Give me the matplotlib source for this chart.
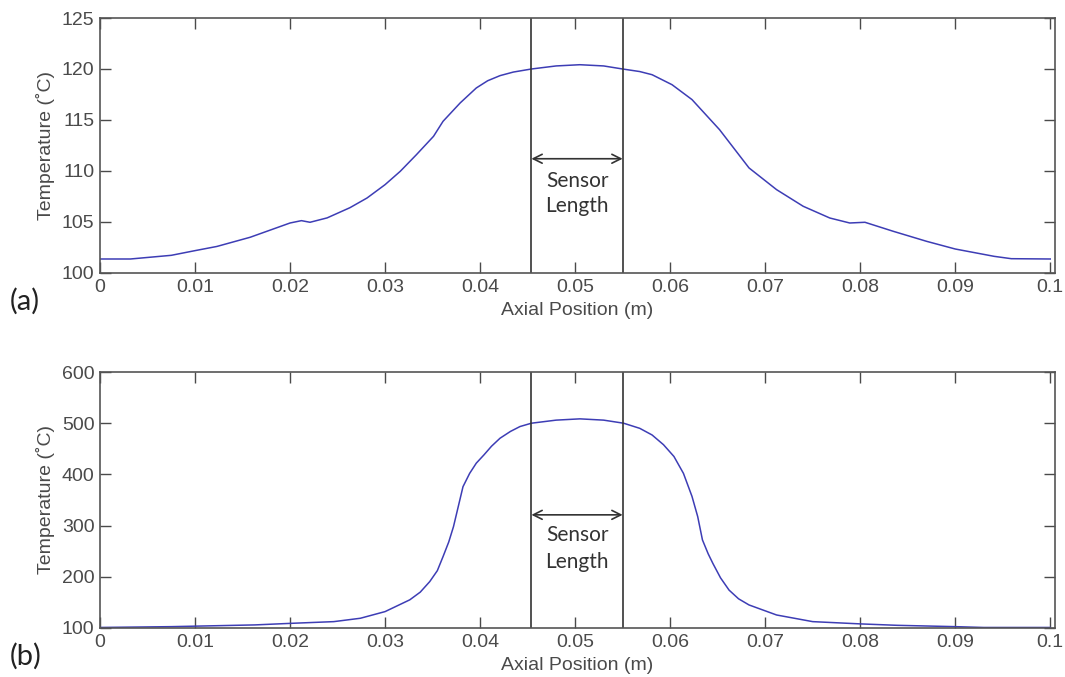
import matplotlib.pyplot as plt

# (a) temperature profile
xa = [0, 0.0032, 0.0075, 0.010, 0.0123, 0.0158, 0.020, 0.0212, 0.0221, 0.0239,
      0.0263, 0.0281, 0.030, 0.0316, 0.0333, 0.0351, 0.0361, 0.0379, 0.0396,
      0.0408, 0.0421, 0.0435, 0.0454, 0.0480, 0.0505, 0.0530, 0.0550, 0.0568,
      0.0581, 0.0602, 0.0623, 0.0652, 0.0683, 0.0712, 0.0740, 0.0768, 0.0789,
      0.0805, 0.0835, 0.0870, 0.0900, 0.0941, 0.0959, 0.1000]
ya = [101.37, 101.37, 101.73, 102.19, 102.6, 103.5, 104.9, 105.13, 104.97, 105.4,
      106.4, 107.35, 108.66, 109.97, 111.6, 113.4, 114.87, 116.67, 118.14,
      118.85, 119.35, 119.7, 120.0, 120.3, 120.42, 120.3, 120.0, 119.75,
      119.44, 118.46, 117.0, 114.05, 110.3, 108.17, 106.54, 105.39, 104.9,
      104.97, 104.08, 103.1, 102.35, 101.63, 101.4, 101.37]

# (b) temperature profile
xb = [0, 0.0075, 0.0163, 0.020, 0.0246, 0.0274, 0.030, 0.0326, 0.0337, 0.0347,
      0.0355, 0.0361, 0.0367, 0.0372, 0.0377, 0.0382, 0.0389, 0.0396, 0.0404,
      0.0412, 0.0421, 0.0432, 0.0442, 0.0454, 0.0480, 0.0505, 0.0530, 0.0551,
      0.0568, 0.0581, 0.0593, 0.0604, 0.0614, 0.0623, 0.0629, 0.0634, 0.0640,
      0.0645, 0.0653, 0.0662, 0.0672, 0.0683, 0.0712, 0.0750, 0.0800, 0.0839,
      0.0900, 0.0930, 0.1000]
yb = [101, 102.6, 106, 109, 112.4, 119, 132, 155, 170, 190.6,
      212, 239.4, 268, 298, 337, 376, 402, 422, 438,
      455, 470.7, 484, 493.5, 500, 506, 508.5, 506, 500,
      490, 477, 458, 435, 402, 357, 317.6, 272, 245,
      226, 198, 174, 157, 145, 125.4, 112.4, 108, 105.2,
      102.6, 101, 101]

sensor = [0.0454, 0.0550]
xticks = [0, 0.01, 0.02, 0.03, 0.04, 0.05, 0.06, 0.07, 0.08, 0.09, 0.1]
xticklabels = ['0', '0.01', '0.02', '0.03', '0.04', '0.05', '0.06', '0.07', '0.08', '0.09', '0.1']

plt.rcParams['font.family'] = ['Liberation Sans', 'DejaVu Sans']

fig = plt.figure(figsize=(10.65, 6.77), dpi=100)
ax1 = fig.add_axes([0.0939, 0.5968, 0.8967, 0.3766])
ax2 = fig.add_axes([0.0939, 0.0724, 0.8967, 0.3781])

panels = [
    (ax1, xa, ya, (100, 125), [100, 105, 110, 115, 120, 125], 111.2, 109.0, 106.6, '(a)'),
    (ax2, xb, yb, (100, 600), [100, 200, 300, 400, 500, 600], 321, 282, 229, '(b)'),
]

for ax, x, y, ylim, yticks, yarrow, ys1, ys2, tag in panels:
    ax.plot(x, y, color='#3d3db5', linewidth=1.1)
    for s in sensor:
        ax.axvline(s, color='#333333', linewidth=1.2)
    ax.annotate('', xy=(sensor[0], yarrow), xytext=(sensor[1], yarrow),
                arrowprops=dict(arrowstyle='<->', color='#333333', lw=1.2,
                                shrinkA=0, shrinkB=0, mutation_scale=16))
    xm = (sensor[0] + sensor[1]) / 2
    ax.text(xm, ys1, 'Sensor', ha='center', va='center', fontsize=15,
            family='Lato', color='#333333')
    ax.text(xm, ys2, 'Length', ha='center', va='center', fontsize=15,
            family='Lato', color='#333333')
    ax.set_xlim(0, 0.1005)
    ax.set_ylim(*ylim)
    ax.set_xticks(xticks)
    ax.set_xticklabels(xticklabels)
    ax.set_yticks(yticks)
    ax.tick_params(direction='in', length=8, width=1, top=True, right=True,
                   labelsize=14, colors='#4a4a4a', pad=4)
    for sp in ax.spines.values():
        sp.set_color('#555555')
        sp.set_linewidth(1.2)
    ax.set_xlabel('Axial Position (m)', fontsize=14, color='#4a4a4a', labelpad=5)
    ax.set_ylabel('Temperature (˚C)', fontsize=14, color='#4a4a4a', labelpad=5)
    ax.text(-0.094, -0.11, tag, transform=ax.transAxes, fontsize=21,
            family='Lato', color='#222222', va='center')

plt.savefig('out.png', dpi=100)
